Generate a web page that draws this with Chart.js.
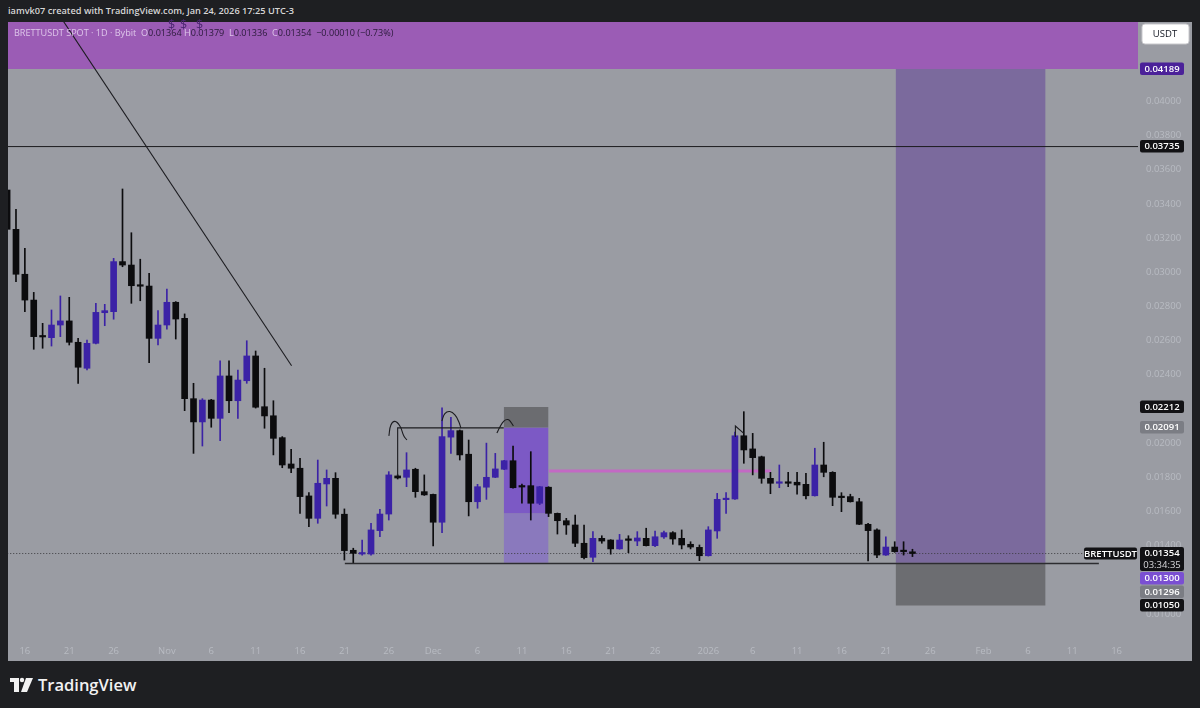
<!DOCTYPE html>
<html>
<head>
<meta charset="utf-8">
<script src="https://cdn.jsdelivr.net/npm/chart.js@4/dist/chart.umd.min.js"></script>
<style>
  body { margin: 0; width: 1200px; height: 708px; background: #1e1f22; overflow: hidden; font-family: "Open Sans", sans-serif; }
  #hdr { position: absolute; left: 8px; top: 4px; font-size: 9.2px; font-weight: 600; color: #d6d6d6; }
  #panel { position: absolute; left: 8px; top: 22px; width: 1184px; height: 639px; background: #9a9ca3; }
  #legend { position: absolute; left: 14px; top: 26px; font-size: 9.1px; color: #2a1a3a; white-space: pre; z-index: 2; }
  #legend .lt { color: rgba(238,222,246,0.8); }
  .dl { position: absolute; top: 16px; font-size: 12.5px; color: #4a2570; z-index: 2; }
  #brand { position: absolute; left: 10px; top: 673px; color: #f2f2f2; font-size: 16.5px; font-weight: 600; display: flex; align-items: center; }
</style>
</head>
<body>
<div id="hdr">iamvk07 created with TradingView.com, Jan 24, 2026 17:25 UTC-3</div>
<div id="panel"><canvas id="chart" width="1184" height="639"></canvas></div>
<div id="legend"><span class="lt">BRETTUSDT SPOT · 1D · Bybit  O</span>0.01364 <span class="lt">H</span>0.01379  <span class="lt">L</span>0.01336  <span class="lt">C</span>0.01354  −0.00010 (−0.73%)</div>
<div class="dl" style="left:168px">$</div>
<div class="dl" style="left:180px">$</div>
<div class="dl" style="left:196px">$</div>
<div id="brand">
  <svg width="24" height="16" viewBox="0 0 24 16" style="margin-right:4px">
    <rect x="0" y="1" width="9" height="4" fill="#f2f2f2"/>
    <rect x="4" y="1" width="5" height="14" fill="#f2f2f2"/>
    <circle cx="12" cy="3" r="2.2" fill="#f2f2f2"/>
    <polygon points="16,1 23,1 17,15 11,15" fill="#f2f2f2"/>
  </svg>TradingView
</div>

<script>
// daily candles, BRETTUSDT 1D
const dates = [
  '2025-10-14','2025-10-15','2025-10-16','2025-10-17','2025-10-18','2025-10-19','2025-10-20','2025-10-21','2025-10-22',
  '2025-10-23','2025-10-24','2025-10-25','2025-10-26','2025-10-27','2025-10-28','2025-10-29','2025-10-30','2025-10-31',
  '2025-11-01','2025-11-02','2025-11-03','2025-11-04','2025-11-05','2025-11-06','2025-11-07','2025-11-08','2025-11-09','2025-11-10',
  '2025-11-11','2025-11-12','2025-11-13','2025-11-14','2025-11-15','2025-11-16','2025-11-17','2025-11-18','2025-11-19','2025-11-20',
  '2025-11-21','2025-11-22','2025-11-23','2025-11-24','2025-11-25','2025-11-26','2025-11-27','2025-11-28','2025-11-29','2025-11-30',
  '2025-12-01','2025-12-02','2025-12-03','2025-12-04','2025-12-05','2025-12-06','2025-12-07','2025-12-08','2025-12-09','2025-12-10',
  '2025-12-11','2025-12-12','2025-12-13','2025-12-14','2025-12-15','2025-12-16','2025-12-17','2025-12-18','2025-12-19','2025-12-20',
  '2025-12-21','2025-12-22','2025-12-23','2025-12-24','2025-12-25','2025-12-26','2025-12-27','2025-12-28','2025-12-29','2025-12-30','2025-12-31',
  '2026-01-01','2026-01-02','2026-01-03','2026-01-04','2026-01-05','2026-01-06','2026-01-07','2026-01-08','2026-01-09','2026-01-10',
  '2026-01-11','2026-01-12','2026-01-13','2026-01-14','2026-01-15','2026-01-16','2026-01-17','2026-01-18','2026-01-19','2026-01-20',
  '2026-01-21','2026-01-22','2026-01-23','2026-01-24'
];
const opens = [
  0.03481,0.03251,0.02988,0.02837,0.02627,0.02617,0.02691,0.02715,0.02590,0.02438,0.02584,0.02763,0.02769,0.03062,0.03042,0.02925,0.02919,0.02613,
  0.02691,0.02824,0.02730,0.02260,0.02124,0.02252,0.02145,0.02393,0.02248,0.02365,0.02510,0.02213,0.02160,0.02032,0.01878,0.01853,0.01691,0.01560,
  0.01761,0.01794,0.01584,0.01373,0.01351,0.01351,0.01488,0.01585,0.01808,0.01800,0.01847,0.01716,0.01700,0.01537,0.02035,0.02073,0.01935,0.01657,
  0.01742,0.01800,0.01847,0.01897,0.01749,0.01751,0.01648,0.01742,0.01589,0.01546,0.01521,0.01414,0.01332,0.01443,0.01433,0.01381,0.01437,0.01427,
  0.01443,0.01400,0.01451,0.01476,0.01443,0.01408,0.01390,0.01341,0.01486,0.01669,0.01673,0.02043,0.01966,0.01920,0.01794,0.01765,0.01771,0.01771,
  0.01759,0.01692,0.01872,0.01829,0.01687,0.01687,0.01657,0.01525,0.01492,0.01345,0.01392,0.01373,0.01364
];
const highs = [
  0.03522,0.03368,0.03140,0.02882,0.02701,0.02779,0.02861,0.02853,0.02613,0.02603,0.02818,0.02812,0.03081,0.03487,0.03231,0.03076,0.02994,0.02775,
  0.02902,0.02828,0.02756,0.02350,0.02260,0.02256,0.02482,0.02482,0.02428,0.02599,0.02539,0.02438,0.02248,0.02038,0.01964,0.01911,0.01710,0.01901,
  0.01843,0.01827,0.01615,0.01385,0.01433,0.01531,0.01613,0.01833,0.01814,0.01944,0.01853,0.01814,0.01702,0.02207,0.02151,0.02077,0.02018,0.01759,
  0.02000,0.01940,0.01899,0.01983,0.01761,0.01950,0.01747,0.01745,0.01591,0.01560,0.01579,0.01521,0.01482,0.01458,0.01435,0.01466,0.01458,0.01482,
  0.01502,0.01486,0.01486,0.01482,0.01492,0.01423,0.01404,0.01511,0.01706,0.01710,0.02065,0.02184,0.02057,0.01924,0.01829,0.01872,0.01829,0.01829,
  0.01823,0.01970,0.02005,0.01833,0.01710,0.01701,0.01677,0.01531,0.01498,0.01452,0.01423,0.01423,0.01379
];
const lows = [
  0.03247,0.02945,0.02769,0.02549,0.02555,0.02568,0.02623,0.02574,0.02350,0.02428,0.02580,0.02687,0.02725,0.03032,0.02818,0.02833,0.02471,0.02574,
  0.02666,0.02609,0.02190,0.01940,0.01983,0.02093,0.02014,0.02178,0.02145,0.02350,0.02205,0.02087,0.01931,0.01856,0.01827,0.01589,0.01511,0.01531,
  0.01632,0.01560,0.01316,0.01296,0.01345,0.01345,0.01452,0.01550,0.01790,0.01745,0.01683,0.01694,0.01398,0.01476,0.01940,0.01901,0.01574,0.01619,
  0.01671,0.01798,0.01845,0.01737,0.01648,0.01550,0.01640,0.01570,0.01468,0.01466,0.01394,0.01322,0.01306,0.01414,0.01350,0.01379,0.01359,0.01400,
  0.01398,0.01394,0.01443,0.01408,0.01381,0.01381,0.01312,0.01339,0.01443,0.01589,0.01671,0.01882,0.01814,0.01765,0.01704,0.01739,0.01745,0.01701,
  0.01673,0.01690,0.01803,0.01634,0.01599,0.01655,0.01523,0.01310,0.01330,0.01343,0.01361,0.01345,0.01336
];
const closes = [
  0.03251,0.02988,0.02837,0.02623,0.02621,0.02691,0.02715,0.02590,0.02444,0.02584,0.02765,0.02775,0.03062,0.03042,0.02921,0.02918,0.02613,0.02691,
  0.02824,0.02726,0.02260,0.02124,0.02252,0.02145,0.02393,0.02248,0.02369,0.02510,0.02210,0.02159,0.02028,0.01872,0.01853,0.01687,0.01560,0.01765,
  0.01794,0.01584,0.01371,0.01355,0.01359,0.01492,0.01585,0.01814,0.01796,0.01843,0.01716,0.01697,0.01537,0.02038,0.02073,0.01931,0.01657,0.01745,
  0.01800,0.01849,0.01897,0.01739,0.01743,0.01648,0.01745,0.01589,0.01546,0.01521,0.01414,0.01330,0.01443,0.01427,0.01381,0.01433,0.01431,0.01445,
  0.01400,0.01452,0.01476,0.01439,0.01404,0.01392,0.01341,0.01492,0.01671,0.01677,0.02043,0.01960,0.01915,0.01794,0.01765,0.01771,0.01765,0.01755,
  0.01692,0.01872,0.01829,0.01683,0.01681,0.01657,0.01525,0.01488,0.01345,0.01392,0.01365,0.01365,0.01354
];

// time axis labels
const xTickDates = ['2025-10-16','2025-10-21','2025-10-26','2025-11-01','2025-11-06','2025-11-11','2025-11-16','2025-11-21','2025-11-26',
  '2025-12-01','2025-12-06','2025-12-11','2025-12-16','2025-12-21','2025-12-26','2026-01-01','2026-01-06','2026-01-11','2026-01-16',
  '2026-01-21','2026-01-26','2026-02-01','2026-02-06','2026-02-11','2026-02-16'];
const xTickLabels = ['16','21','26','Nov','6','11','16','21','26','Dec','6','11','16','21','26','2026','6','11','16','21','26','Feb','6','11','16'];
const yTicks = [0.01000,0.01400,0.01600,0.01800,0.02000,0.02400,0.02600,0.02800,0.03000,0.03200,0.03400,0.03600,0.03800,0.04000];

// drawn zones (days from Oct 16, price)
const zoneStart = [-3, 98.1, 98.1, 53.95, 53.95, 53.95];
const zoneEnd = [130, 115, 115, 59.0, 59.0, 59.0];
const zoneHigh = [0.05, 0.04189, 0.01300, 0.02212, 0.02091, 0.01590];
const zoneLow = [0.04189, 0.01300, 0.01050, 0.02091, 0.01590, 0.01300];
const zoneColors = ['#9b5cb5', '#7b6a9d', '#6c6d71', '#6b6c70', '#7c59c5', '#8a79bd'];

// horizontal lines
const hLevels = [0.03735, 0.01296, 0.01837, 0.01354];
const hStart = [-3, 36.05, 59.04, -3];
const hEnd = [130, 121, 84.05, 119.4];
const hColors = ['#1b1b1e', '#2c2c30', 'rgba(200,100,200,0.9)', '#3c3c40'];
const hWidths = [1, 1.6, 3, 1];

// trend line and hand drawn marks
const trendX = [3.3, 30.05];
const trendY = [0.0455, 0.02453];
const bracketX = [42.0, 42.0, 53.95];
const bracketY = [0.01808, 0.02089, 0.02089];
const arc1X = [41.01, 41.24, 41.69, 42.25, 42.70, 43.04];
const arc1Y = [0.02042, 0.02106, 0.02127, 0.02100, 0.02042, 0.02018];
const arc2X = [46.98, 47.32, 47.88, 48.45, 48.90, 49.12];
const arc2Y = [0.02129, 0.02173, 0.02185, 0.02165, 0.02123, 0.02088];
const arc3X = [53.18, 53.52, 53.97, 54.42, 54.75, 55.04];
const arc3Y = [0.02059, 0.02094, 0.02129, 0.02138, 0.02123, 0.02100];
const hookX = [80.05, 80.05, 81.0];
const hookY = [0.02036, 0.02100, 0.02057];

// price tags on the right axis
const tagValues = [0.04189, 0.03735, 0.02212, 0.02091, 0.01354, 0.01300, 0.01296, 0.01050];
const tagColors = ['#4b2199', '#121215', '#121215', '#7b7d84', '#121215', '#7a4fd2', '#7b7d84', '#121215'];
const countdown = '03:34:35';
const symbol = 'BRETTUSDT';

const BULL = '#3b22a6';
const BEAR = '#0c0c0e';

const origin = Date.parse('2025-10-16');
const dayOf = s => (Date.parse(s) - origin) / 864e5;

const days = dates.map(dayOf);
const candleColors = opens.map((o, i) => closes[i] >= o ? BULL : BEAR);

const pts = (xs, ys) => xs.map((x, i) => ({ x: x, y: ys[i] }));

const datasets = [];

// bodies and wicks
datasets.push({
  type: 'bar', order: 1, grouped: false,
  data: days.map((d, i) => ({ x: d, y: [opens[i], closes[i]] })),
  backgroundColor: candleColors, barThickness: 6, minBarLength: 1.5
});
datasets.push({
  type: 'bar', order: 2, grouped: false,
  data: days.map((d, i) => ({ x: d, y: [lows[i], highs[i]] })),
  backgroundColor: candleColors, barThickness: 1
});

zoneStart.forEach((x0, i) => {
  datasets.push({
    type: 'line', order: 20,
    data: pts([x0, zoneEnd[i]], [zoneHigh[i], zoneHigh[i]]),
    borderWidth: 0, pointRadius: 0, tension: 0,
    fill: { value: zoneLow[i] }, backgroundColor: zoneColors[i]
  });
});

hLevels.forEach((v, i) => {
  datasets.push({
    type: 'line', order: i === 1 ? 0 : 10,
    data: pts([hStart[i], hEnd[i]], [v, v]),
    borderColor: hColors[i], borderWidth: hWidths[i], pointRadius: 0,
    borderDash: i === 3 ? [1, 2] : [], fill: false
  });
});

[[trendX, trendY, 0], [bracketX, bracketY, 0], [arc1X, arc1Y, 0.45], [arc2X, arc2Y, 0.45],
 [arc3X, arc3Y, 0.45], [hookX, hookY, 0]].forEach(([xs, ys, t]) => {
  datasets.push({
    type: 'line', order: 0,
    data: pts(xs, ys),
    borderColor: '#1c1c20', borderWidth: 1.1, pointRadius: 0, tension: t, fill: false
  });
});

const tagPlugin = {
  id: 'tags',
  afterDraw(chart) {
    const ctx = chart.ctx, ys = chart.scales.y, area = chart.chartArea;
    ctx.save();
    ctx.textAlign = 'center';
    ctx.textBaseline = 'middle';
    // currency box
    ctx.fillStyle = '#ffffff';
    ctx.strokeStyle = '#c8c8cc';
    ctx.beginPath();
    ctx.roundRect(area.right + 4, 2, 47, 20, 3);
    ctx.fill(); ctx.stroke();
    ctx.fillStyle = '#131722';
    ctx.font = '9.5px "Open Sans", sans-serif';
    ctx.fillText('USDT', area.right + 27, 12.5);

    ctx.font = '600 9.5px "Open Sans", sans-serif';
    let prevBottom = -Infinity;
    tagValues.forEach((v, i) => {
      const isLast = v === closes[closes.length - 1];
      const h = isLast ? 24 : 12.5;
      let top = ys.getPixelForValue(v) - 6.5;
      if (top < prevBottom + 1) top = prevBottom + 1;
      ctx.fillStyle = tagColors[i];
      ctx.beginPath();
      ctx.roundRect(area.right + 2, top, 44, h, 2);
      ctx.fill();
      ctx.fillStyle = '#ffffff';
      ctx.fillText(v.toFixed(5), area.right + 24, top + 6.5);
      if (isLast) {
        ctx.fillStyle = '#d8d8dc';
        ctx.font = '9.5px "Open Sans", sans-serif';
        ctx.fillText(countdown, area.right + 24, top + 18);
        ctx.font = '600 9.5px "Open Sans", sans-serif';
        ctx.fillStyle = '#121215';
        ctx.beginPath();
        ctx.roundRect(area.right - 54, top + 0.5, 53, 12, 2);
        ctx.fill();
        ctx.fillStyle = '#ffffff';
        ctx.fillText(symbol, area.right - 27.5, top + 6.8);
      }
      prevBottom = top + h;
    });
    ctx.restore();
  }
};

const noPad = s => { s.paddingLeft = 0; s.paddingRight = 0; s.paddingTop = 0; s.paddingBottom = 0; };

new Chart(document.getElementById('chart'), {
  type: 'bar',
  data: { datasets: datasets },
  options: {
    responsive: false,
    animation: false,
    devicePixelRatio: 1,
    layout: { padding: 0 },
    plugins: { legend: { display: false }, tooltip: { enabled: false } },
    scales: {
      x: {
        type: 'linear', min: -1.9, max: 125.41, offset: false,
        grid: { display: false, drawTicks: false }, border: { display: false },
        afterFit: s => { s.height = 21; noPad(s); },
        afterBuildTicks: s => { s.ticks = xTickDates.map(d => ({ value: dayOf(d) })); },
        ticks: {
          autoSkip: false, maxRotation: 0, padding: 6, color: '#b8bbc2',
          font: { size: 9.5, family: '"Open Sans", sans-serif' },
          callback: (v, i) => xTickLabels[i]
        }
      },
      y: {
        type: 'linear', position: 'right', min: 0.00848, max: 0.04464,
        grid: { display: false, drawTicks: false }, border: { display: false },
        afterFit: s => { s.width = 54; noPad(s); },
        afterBuildTicks: s => { s.ticks = yTicks.map(v => ({ value: v })); },
        ticks: {
          padding: 8, color: '#b8bbc2',
          font: { size: 9.5, family: '"Open Sans", sans-serif' },
          callback: v => v.toFixed(5)
        }
      }
    }
  },
  plugins: [tagPlugin]
});
</script>
</body>
</html>
